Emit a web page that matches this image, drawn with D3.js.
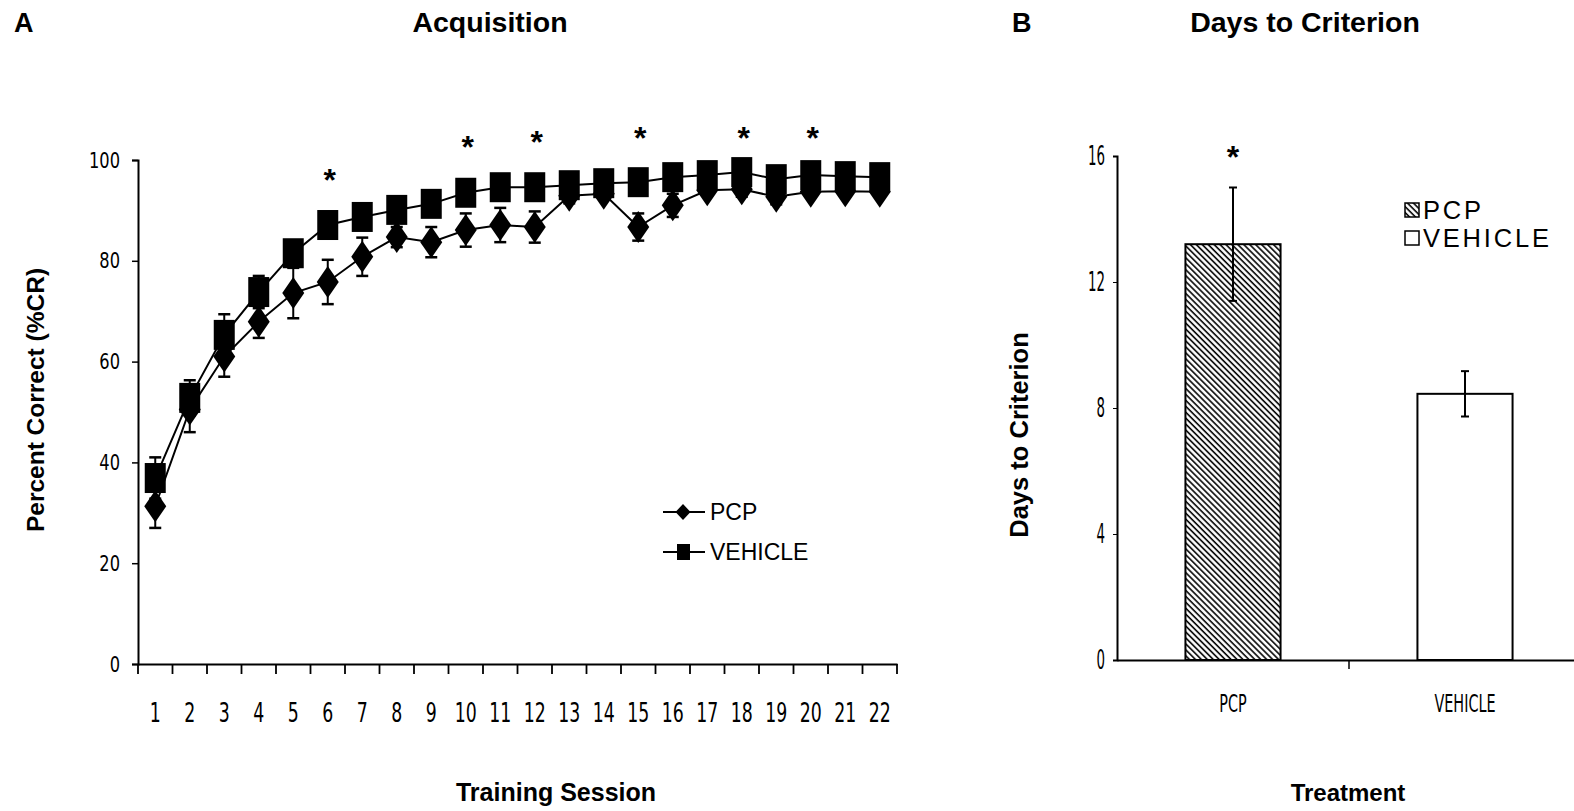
<!DOCTYPE html>
<html>
<head>
<meta charset="utf-8">
<title>Acquisition and Days to Criterion</title>
<style>
  body { margin: 0; padding: 0; background: #fff; }
  svg { display: block; }
  .bold { font-family: "Liberation Sans", Arial, sans-serif; font-weight: bold; }
  .narrow { font-family: "Liberation Sans Narrow", "DejaVu Sans Condensed", "Liberation Sans", sans-serif; }
</style>
</head>
<body>
<div id="chart"></div>
<script src="https://d3js.org/d3.v7.min.js"></script>
<script>
// ---- data ----
var sessions = ["1","2","3","4","5","6","7","8","9","10","11","12","13","14","15","16","17","18","19","20","21","22"];
var pcpMean  = [31.3, 50.5, 61, 67.9, 73.6, 75.8, 80.8, 84.7, 83.7, 86.1, 87.1, 86.7, 92.9, 93.3, 86.7, 91, 94, 94.2, 92.7, 93.7, 93.8, 93.7];
var pcpSem   = [4.3, 4.5, 4, 3.2, 5, 4.4, 3.8, 2, 3, 3.3, 3.4, 3.1, 1.5, 1, 2.7, 2.3, 1, 1.5, 1.5, 1, 1, 1];
var vehMean  = [36.9, 52.8, 65.3, 73.8, 81.5, 87.1, 88.7, 90.1, 91.3, 93.5, 94.6, 94.6, 95, 95.4, 95.6, 96.6, 97, 97.6, 96.2, 97, 96.8, 96.6];
var vehSem   = [4.1, 3.5, 4.1, 3.2, 2.5, 2, 2, 2, 2, 2, 2.5, 2, 1.5, 1.5, 1.5, 1.5, 1.5, 1.5, 1.5, 1.5, 1.5, 1.5];
var sigSessions = ["6","10","12","15","18","20"];
var yTicksA = [0, 20, 40, 60, 80, 100];

var groups   = ["PCP", "VEHICLE"];
var daysMean = [13.2, 8.45];
var daysSem  = [1.8, 0.72];
var yTicksB  = [0, 4, 8, 12, 16];

var W = 1574, H = 811;
var svg = d3.select("#chart").append("svg").attr("width", W).attr("height", H);

var defs = svg.append("defs");
var hatch = defs.append("pattern")
    .attr("id", "hatch")
    .attr("patternUnits", "userSpaceOnUse")
    .attr("width", 4.2).attr("height", 4.2)
    .attr("patternTransform", "rotate(-45)");
hatch.append("rect").attr("width", 4.2).attr("height", 4.2).attr("fill", "#fff");
hatch.append("line").attr("x1", 1).attr("y1", 0).attr("x2", 1).attr("y2", 4.2)
    .attr("stroke", "#000").attr("stroke-width", 1.6);

// squeeze text horizontally to mimic the narrow print font
function condense(sel, k) {
  sel.each(function() {
    var w = this.getComputedTextLength();
    d3.select(this).attr("textLength", w * k).attr("lengthAdjust", "spacingAndGlyphs");
  });
}

// ================= Panel A =================
var x = d3.scaleBand().domain(sessions).range([138, 897]);
var y = d3.scaleLinear().domain([0, 100]).range([664, 160]);

svg.append("text").attr("class", "bold").attr("x", 14).attr("y", 32)
  .attr("font-size", 27).text("A");
svg.append("text").attr("class", "bold").attr("x", 490).attr("y", 32)
  .attr("text-anchor", "middle").attr("font-size", 28.5).text("Acquisition");

// axes
var gxA = svg.append("g").attr("transform", "translate(0,664)")
  .call(d3.axisBottom(x).tickSize(0).tickPadding(0));
gxA.select(".domain").attr("stroke-width", 2);
gxA.selectAll(".tick text").remove();
gxA.selectAll(".bnd").data(d3.range(sessions.length + 1)).enter().append("line")
  .attr("x1", function(i) { return 138 + i * x.step(); })
  .attr("x2", function(i) { return 138 + i * x.step(); })
  .attr("y1", 0).attr("y2", 10).attr("stroke", "#000").attr("stroke-width", 1.8);
svg.append("g").selectAll("text").data(sessions).enter().append("text")
  .attr("class", "narrow")
  .attr("x", function(d) { return x(d) + x.bandwidth() / 2; })
  .attr("y", 722).attr("text-anchor", "middle").attr("font-size", 26)
  .text(function(d) { return d; })
  .call(condense, 0.74);

var gyA = svg.append("g").attr("transform", "translate(138,0)")
  .call(d3.axisLeft(y).tickValues(yTicksA).tickSize(6).tickPadding(12));
gyA.select(".domain").attr("stroke-width", 2);
gyA.selectAll(".tick line").attr("stroke-width", 1.5);
gyA.selectAll(".tick text").attr("class", "narrow").attr("font-size", 22).attr("fill", "#000")
  .call(condense, 0.82);

svg.append("text").attr("class", "bold")
  .attr("transform", "translate(44,400) rotate(-90)")
  .attr("text-anchor", "middle").attr("font-size", 24.5).text("Percent Correct (%CR)");
svg.append("text").attr("class", "bold").attr("x", 556).attr("y", 801)
  .attr("text-anchor", "middle").attr("font-size", 25).text("Training Session");

function cx(i) { return x(sessions[i]) + x.bandwidth() / 2; }
var diamond = function(s, w, h) {
  return "M0," + (-h / 2) + "L" + (w / 2) + ",0L0," + (h / 2) + "L" + (-w / 2) + ",0Z";
};

function drawSeries(mean, sem, marker) {
  var g = svg.append("g");
  g.append("path")
    .attr("d", d3.line().x(function(d, i) { return cx(i); }).y(function(d) { return y(d); })(mean))
    .attr("fill", "none").attr("stroke", "#000").attr("stroke-width", 2);
  var eb = g.selectAll(".eb").data(mean).enter().append("g");
  eb.append("line")
    .attr("x1", function(d, i) { return cx(i); }).attr("x2", function(d, i) { return cx(i); })
    .attr("y1", function(d, i) { return y(d - sem[i]); }).attr("y2", function(d, i) { return y(d + sem[i]); })
    .attr("stroke", "#000").attr("stroke-width", 2);
  [-1, 1].forEach(function(sg) {
    eb.append("line")
      .attr("x1", function(d, i) { return cx(i) - 6; }).attr("x2", function(d, i) { return cx(i) + 6; })
      .attr("y1", function(d, i) { return y(d + sg * sem[i]); }).attr("y2", function(d, i) { return y(d + sg * sem[i]); })
      .attr("stroke", "#000").attr("stroke-width", 2.5);
  });
  if (marker === "diamond") {
    g.selectAll(".m").data(mean).enter().append("path")
      .attr("d", diamond(0, 22, 32))
      .attr("transform", function(d, i) { return "translate(" + cx(i) + "," + y(d) + ")"; })
      .attr("fill", "#000");
  } else {
    g.selectAll(".m").data(mean).enter().append("rect")
      .attr("x", function(d, i) { return cx(i) - 10.5; })
      .attr("y", function(d) { return y(d) - 15; })
      .attr("width", 21).attr("height", 30).attr("fill", "#000");
  }
}
drawSeries(pcpMean, pcpSem, "diamond");
drawSeries(vehMean, vehSem, "square");

svg.append("g").selectAll("text").data(sigSessions).enter().append("text")
  .attr("class", "bold")
  .attr("x", function(d) { return x(d) + x.bandwidth() / 2 + 2; })
  .attr("y", function(d) { var i = sessions.indexOf(d); return y(Math.min(vehMean[i] + 10, 105.4)) + 16; })
  .attr("text-anchor", "middle").attr("font-size", 32).text("*");

// legend A
var legA = svg.append("g").attr("transform", "translate(663,0)");
[["PCP", 512, "diamond"], ["VEHICLE", 552, "square"]].forEach(function(r) {
  legA.append("line").attr("x1", 0).attr("x2", 42).attr("y1", r[1]).attr("y2", r[1])
    .attr("stroke", "#000").attr("stroke-width", 2);
  if (r[2] === "diamond") {
    legA.append("path").attr("d", diamond(0, 15, 16)).attr("transform", "translate(20," + r[1] + ")");
  } else {
    legA.append("rect").attr("x", 14).attr("y", r[1] - 8).attr("width", 13).attr("height", 16);
  }
  legA.append("text").attr("x", 47).attr("y", r[1] + 8)
    .attr("font-family", "Liberation Sans, Arial, sans-serif").attr("font-size", 23).text(r[0]);
});

// ================= Panel B =================
var xb = d3.scaleBand().domain(groups).range([1117, 1581]);
var yb = d3.scaleLinear().domain([0, 16]).range([660, 156]);
var barW = xb.bandwidth() * 0.41;

svg.append("text").attr("class", "bold").attr("x", 1012).attr("y", 32)
  .attr("font-size", 27).text("B");
svg.append("text").attr("class", "bold").attr("x", 1305).attr("y", 32)
  .attr("text-anchor", "middle").attr("font-size", 28.5).text("Days to Criterion");

svg.append("g").selectAll("rect").data(groups).enter().append("rect")
  .attr("x", function(d) { return xb(d) + xb.bandwidth() / 2 - barW / 2; })
  .attr("y", function(d, i) { return yb(daysMean[i]); })
  .attr("width", barW)
  .attr("height", function(d, i) { return yb(0) - yb(daysMean[i]); })
  .attr("fill", function(d, i) { return i === 0 ? "url(#hatch)" : "#fff"; })
  .attr("stroke", "#000").attr("stroke-width", 2);

var ebB = svg.append("g").selectAll("g").data(groups).enter().append("g");
ebB.append("line")
  .attr("x1", function(d) { return xb(d) + xb.bandwidth() / 2; })
  .attr("x2", function(d) { return xb(d) + xb.bandwidth() / 2; })
  .attr("y1", function(d, i) { return yb(daysMean[i] - daysSem[i]); })
  .attr("y2", function(d, i) { return yb(daysMean[i] + daysSem[i]); })
  .attr("stroke", "#000").attr("stroke-width", 2);
[-1, 1].forEach(function(sg) {
  ebB.append("line")
    .attr("x1", function(d) { return xb(d) + xb.bandwidth() / 2 - 4; })
    .attr("x2", function(d) { return xb(d) + xb.bandwidth() / 2 + 4; })
    .attr("y1", function(d, i) { return yb(daysMean[i] + sg * daysSem[i]); })
    .attr("y2", function(d, i) { return yb(daysMean[i] + sg * daysSem[i]); })
    .attr("stroke", "#000").attr("stroke-width", 2);
});

svg.append("text").attr("class", "bold")
  .attr("x", xb("PCP") + xb.bandwidth() / 2).attr("y", yb(daysMean[0] + daysSem[0]) - 20)
  .attr("text-anchor", "middle").attr("font-size", 32).text("*");

var gxB = svg.append("g").attr("transform", "translate(0,660)")
  .call(d3.axisBottom(xb).tickSize(0).tickPadding(34));
gxB.select(".domain").attr("stroke-width", 2);
gxB.selectAll(".tick text").attr("class", "narrow").attr("font-size", 25).attr("fill", "#000")
  .call(condense, 0.64);
gxB.append("line").attr("x1", xb("VEHICLE")).attr("x2", xb("VEHICLE"))
  .attr("y1", 0).attr("y2", 9).attr("stroke", "#000").attr("stroke-width", 1.5);

var gyB = svg.append("g").attr("transform", "translate(1117,0)")
  .call(d3.axisLeft(yb).tickValues(yTicksB).tickSize(4).tickPadding(8));
gyB.select(".domain").attr("stroke-width", 2);
gyB.selectAll(".tick text").attr("class", "narrow").attr("font-size", 27).attr("fill", "#000")
  .call(condense, 0.55);

svg.append("text").attr("class", "bold")
  .attr("transform", "translate(1028,435) rotate(-90)")
  .attr("text-anchor", "middle").attr("font-size", 25.5).text("Days to Criterion");
svg.append("text").attr("class", "bold").attr("x", 1348).attr("y", 801)
  .attr("text-anchor", "middle").attr("font-size", 24).text("Treatment");

// legend B
var legB = svg.append("g").attr("transform", "translate(1405,0)");
groups.forEach(function(gname, i) {
  var cy = 210 + i * 28;
  legB.append("rect").attr("x", 0).attr("y", cy - 7).attr("width", 14).attr("height", 14)
    .attr("fill", i === 0 ? "url(#hatch)" : "#fff").attr("stroke", "#000").attr("stroke-width", 1.5);
  legB.append("text").attr("x", 18).attr("y", cy + 9)
    .attr("font-family", "Liberation Sans, Arial, sans-serif").attr("font-size", 25.5)
    .attr("letter-spacing", 2.8).text(gname);
});
</script>
</body>
</html>
